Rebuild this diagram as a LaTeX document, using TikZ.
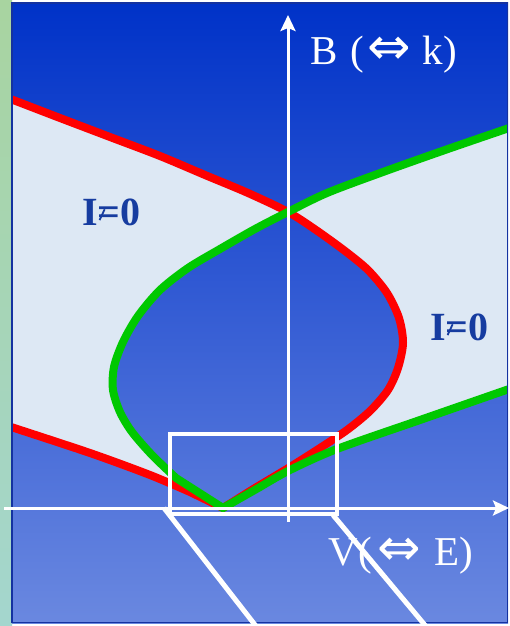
\documentclass[tikz,border=0pt]{standalone}
\usepackage{fontspec}
\setmainfont{Liberation Serif}
\newfontfamily\arrowfont{DejaVu Sans}
\usetikzlibrary{arrows.meta}
\definecolor{bgtop}{RGB}{0,50,200}
\definecolor{bgbot}{RGB}{106,136,224}
\definecolor{lightfill}{RGB}{221,232,244}
\definecolor{redc}{RGB}{255,0,0}
\definecolor{greenc}{RGB}{0,200,0}
\definecolor{labelblue}{RGB}{22,60,160}
\definecolor{stripTop}{RGB}{168,212,160}
\definecolor{stripBot}{RGB}{164,214,206}
\definecolor{panelborder}{RGB}{20,50,160}
\newcommand\myLR{{\arrowfont\fontsize{52}{52}\selectfont ⇔}}
\newcommand\myslash{\rlap{\kern1pt\raisebox{4.5pt}{\rotatebox{65}{\rule{12pt}{1.8pt}}}}}
\begin{document}
\begin{tikzpicture}[x=1pt,y=-1pt,
  redline/.style={draw=redc,line width=8pt,line join=miter},
  greenline/.style={draw=greenc,line width=8pt,line join=miter},
  axisline/.style={draw=white,line width=3pt,-{Stealth[length=16pt,width=15pt,inset=3pt]}},
  zoombox/.style={draw=white,line width=4.5pt},
  zoomline/.style={draw=white,line width=5pt},
  axislabel/.style={text=white,font=\fontsize{41}{41}\selectfont,inner sep=0pt},
  ilabel/.style={text=labelblue,font=\fontsize{40}{40}\selectfont\bfseries,inner sep=0pt}]
\useasboundingbox (0,0) rectangle (510,626);
\fill[white] (0,0) rectangle (510,626);
% left strip
\shade[top color=stripTop,bottom color=stripBot] (0,0) rectangle (12,626);
% panel
\shade[top color=bgtop,bottom color=bgbot] (12,3) rectangle (508,623);
\begin{scope}
\clip (12,3) rectangle (507,622);
% light regions
\fill[lightfill] plot[smooth] coordinates {(12,100) (60,118) (110,137) (160,156) (205,175) (248,193) (288,212)}
  -- plot[smooth] coordinates {(288,212) (255,229) (220,249) (188,268) (160,290) (138,316) (123,342) (114,367) (113,390) (120,412) (132,432) (152,455) (176,478) (223,508)}
  -- (190,492) -- plot[smooth] coordinates {(190,492) (150,475) (90,453) (12,427)} -- (0,427) -- (0,100) -- cycle;
\fill[lightfill] plot[smooth] coordinates {(288,212) (327,193) (383,172) (445,150) (507,129)}
  -- (515,129) -- (515,390) -- (507,390)
  -- plot[smooth] coordinates {(507,390) (420,420) (337,449)}
  -- plot[smooth] coordinates {(340,433) (347,430) (370,411) (388,390) (398,368) (403,343) (399,318) (387,293) (368,270) (345,251) (316,230) (288,212)} -- cycle;
% red curve
\draw[redline] plot[smooth] coordinates {(8,98) (60,118) (110,137) (160,156) (205,175) (248,193) (288,212) (316,230) (345,251) (368,270) (387,293) (399,318) (403,343) (398,368) (388,390) (370,411) (347,430) (320,448) (290,467) (255,488) (223,508)}
  -- plot[smooth] coordinates {(190,492) (150,475) (90,453) (8,426)};
% green curve
\draw[greenline] plot[smooth] coordinates {(512,127) (445,150) (383,172) (327,193) (288,212) (255,229) (220,249) (188,268) (160,290) (138,316) (123,342) (114,367) (113,390) (120,412) (132,432) (152,455) (176,478)}
  -- (223,508) -- plot[smooth] coordinates {(260,487) (290,470) (337,449) (420,420) (512,388)};
\end{scope}
\draw[panelborder,line width=1.2pt] (12,3) rectangle (507.5,622.5);
% axes
\coordinate (vbot) at (288,522);
\coordinate (vtop) at (288,15);
\coordinate (hleft) at (4,508);
\coordinate (hright) at (509,508);
\draw[axisline] (vbot) -- (vtop);
\draw[axisline] (hleft) -- (hright);
% zoom box
\coordinate (boxA) at (170,434);
\coordinate (boxB) at (337,514);
\draw[zoombox] (boxA) rectangle (boxB);
% labels
\node[axislabel,anchor=base west] (blab) at (310,65) {B\hspace{13pt}(\hspace{3pt}\myLR\hspace{12pt}k)};
\node[axislabel,anchor=base west] (vlab) at (328,565) {V\hspace{1pt}(\hspace{5pt}\myLR\hspace{13pt}E)};
\node[ilabel,anchor=base west] (ileft) at (82,225) {I\myslash=0};
\node[ilabel,anchor=base west] (iright) at (430,340) {I\myslash=0};
% zoom lines
\coordinate (zl1) at (164,508);
\coordinate (zl1e) at (259,630);
\coordinate (zl2) at (333,515);
\coordinate (zl2e) at (429,630);
\draw[zoomline] (zl1) -- (zl1e);
\draw[zoomline] (zl2) -- (zl2e);
\end{tikzpicture}
\end{document}
